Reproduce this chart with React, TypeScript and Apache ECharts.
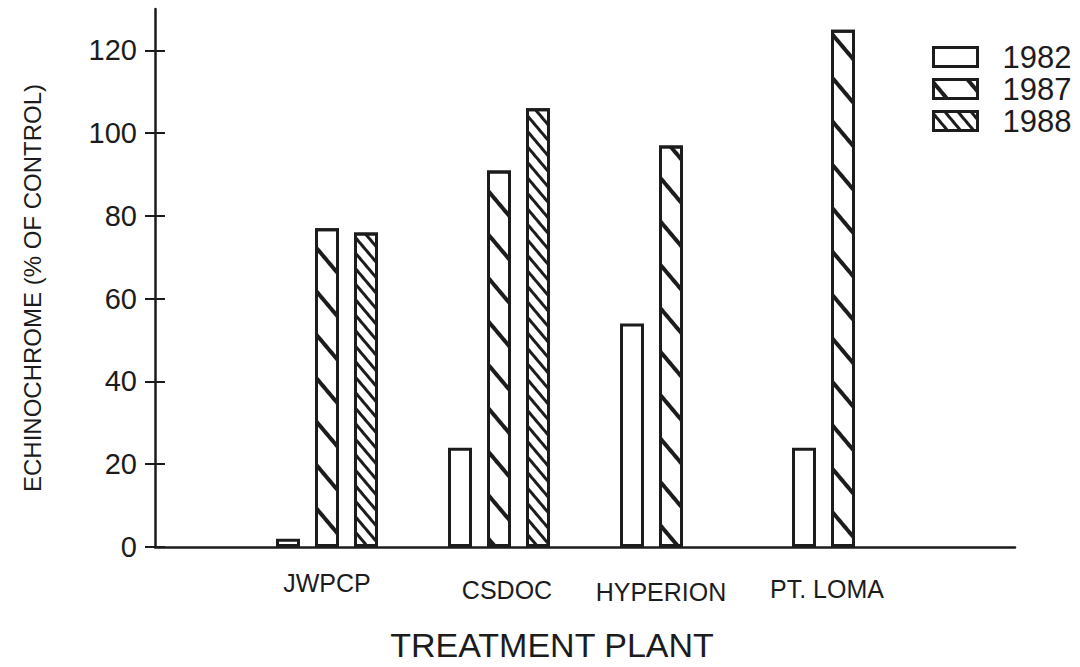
import React, { useEffect, useRef } from "react";
import * as echarts from "echarts";

const categories = ["", "JWPCP", "CSDOC", "HYPERION", "PT. LOMA", ""];
const seriesNames = ["1982", "1987", "1988"];
const values1982 = [null, 2, 24, 54, 24, null];
const values1987 = [null, 77, 91, 97, 125, null];
const values1988 = [null, 76, 106, null, null, null];
const yTicks = [0, 20, 40, 60, 80, 100, 120];

const INK = "#1c1c1c";
const FONT = "'Liberation Sans', Arial, Helvetica, sans-serif";

export default function App() {
  const ref = useRef<HTMLDivElement>(null);

  useEffect(() => {
    if (!ref.current) return;
    const chart = echarts.init(ref.current, null, { renderer: "svg" });

    const barStyle = (decal?: any) => ({
      color: "#ffffff",
      borderColor: INK,
      borderWidth: 3,
      ...(decal ? { decal } : {}),
    });

    const sparse = {
      symbol: "rect",
      symbolSize: 1,
      dashArrayX: [1, 0],
      dashArrayY: [3.5, 24],
      rotation: 0.87,
      color: INK,
      backgroundColor: "rgba(0,0,0,0)",
    };
    const dense = {
      symbol: "rect",
      symbolSize: 1,
      dashArrayX: [1, 0],
      dashArrayY: [2.5, 6.5],
      rotation: 0.87,
      color: INK,
      backgroundColor: "rgba(0,0,0,0)",
    };

    const labelRich: any = {
      c0: { fontSize: 25, fontFamily: FONT, color: INK },
      c1: { fontSize: 25, fontFamily: FONT, color: INK, padding: [0, 0, 0, 0] },
      c2: { fontSize: 25, fontFamily: FONT, color: INK, padding: [7, 0, 0, 16] },
      c3: { fontSize: 25, fontFamily: FONT, color: INK, padding: [9, 20, 0, 0] },
      c4: { fontSize: 25, fontFamily: FONT, color: INK, padding: [6, 32, 0, 0] },
      c5: { fontSize: 25, fontFamily: FONT, color: INK },
    };

    const option: any = {
      animation: false,
      backgroundColor: "#ffffff",
      grid: { left: 155, right: 65, top: 9, bottom: 117, containLabel: false },
      legend: {
        data: seriesNames,
        orient: "vertical",
        left: 927,
        top: 36,
        itemWidth: 44,
        itemHeight: 19,
        itemGap: 0,
        icon: "rect",
        itemStyle: { borderWidth: 3, borderColor: INK },
        textStyle: {
          fontSize: 31,
          fontFamily: FONT,
          color: INK,
          padding: [0, 0, 0, 20],
          lineHeight: 32,
        },
      },
      xAxis: {
        type: "category",
        data: categories,
        boundaryGap: false,
        name: "TREATMENT PLANT",
        nameLocation: "middle",
        nameGap: 81,
        nameTextStyle: {
          fontSize: 34,
          fontFamily: FONT,
          color: INK,
          padding: [0, 66, 0, 0],
        },
        axisLine: { lineStyle: { color: INK, width: 2.5 } },
        axisTick: { show: false },
        splitLine: { show: false },
        axisLabel: {
          interval: 0,
          margin: 23,
          fontSize: 25,
          fontFamily: FONT,
          color: INK,
          formatter: (v: string, i: number) => (v ? `{c${i}|${v}}` : ""),
          rich: labelRich,
        },
      },
      yAxis: [
        {
          type: "value",
          min: 0,
          max: 130,
          name: "ECHINOCHROME (% OF CONTROL)",
          nameLocation: "middle",
          nameGap: 111,
          nameTextStyle: {
            fontSize: 24,
            fontFamily: FONT,
            color: INK,
            padding: [0, 20, 0, 0],
          },
          axisLine: { show: true, lineStyle: { color: INK, width: 2.5 } },
          axisTick: {
            show: true,
            length: 10,
            inside: false,
            customValues: yTicks,
            lineStyle: { color: INK, width: 2 },
          },
          axisLabel: {
            margin: 18,
            fontSize: 29,
            fontFamily: FONT,
            color: INK,
            customValues: yTicks,
          },
          splitLine: { show: false },
        },
        {
          type: "value",
          min: 0,
          max: 130,
          position: "left",
          axisLine: { show: false },
          axisTick: {
            show: true,
            length: 10,
            inside: true,
            customValues: yTicks,
            lineStyle: { color: INK, width: 2 },
          },
          axisLabel: { show: false },
          splitLine: { show: false },
        },
      ],
      series: [
        {
          name: seriesNames[0],
          type: "bar",
          data: values1982,
          barWidth: 24,
          barGap: "62.5%",
          itemStyle: barStyle(),
        },
        {
          name: seriesNames[1],
          type: "bar",
          data: values1987,
          barWidth: 24,
          barGap: "62.5%",
          itemStyle: barStyle(sparse),
        },
        {
          name: seriesNames[2],
          type: "bar",
          data: values1988,
          barWidth: 24,
          barGap: "62.5%",
          itemStyle: barStyle(dense),
        },
      ],
    };

    chart.setOption(option);
    return () => chart.dispose();
  }, []);

  return (
    <div
      ref={ref}
      style={{ position: "absolute", left: 0, top: 0, width: 1080, height: 667 }}
    />
  );
}
